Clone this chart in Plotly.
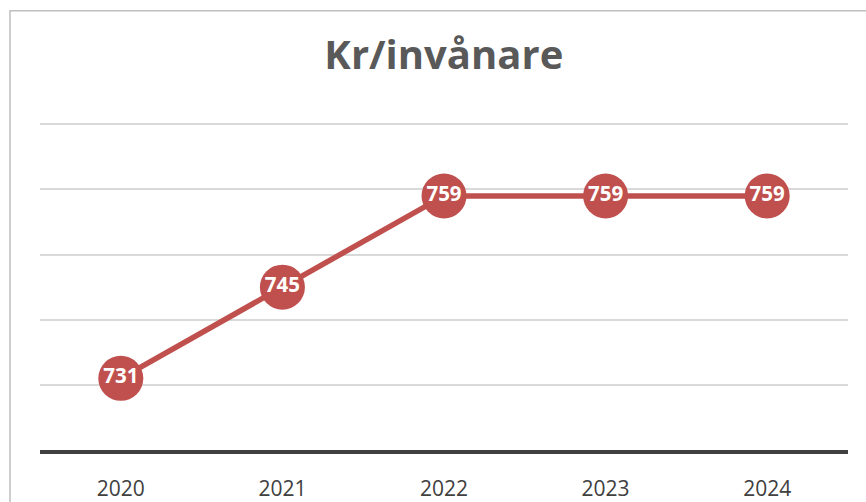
import plotly.graph_objects as go

years = ["2020", "2021", "2022", "2023", "2024"]
values = [731, 745, 759, 759, 759]
labels = ["731", "745", "759", "759", "759"]
title_text = "Kr/invånare"

RED = "#C0504D"

# plot area geometry (pixels)
L, R, TOP, BOT = 40, 848, 124.5, 450
Y0, Y1 = 720, 770.5
px_per_unit = (BOT - TOP) / (770 - 720)
top_px = BOT - (Y1 - Y0) * px_per_unit

fig = go.Figure()
fig.add_trace(go.Scatter(
    x=years, y=values, mode="lines+markers+text",
    line=dict(color=RED, width=5.5),
    marker=dict(size=45, color=RED, line=dict(width=0)),
    text=labels, textposition="middle center",
    textfont=dict(family="Open Sans", size=20.5, color="white", weight="bold"),
    cliponaxis=False, hoverinfo="skip",
))

fig.update_layout(
    template="none",
    width=866, height=502,
    margin=dict(l=L, r=866 - R, t=top_px, b=502 - BOT, pad=0),
    paper_bgcolor="white", plot_bgcolor="white",
    showlegend=False,
    title=dict(text="<b>" + title_text + "</b>", x=0.5125, xanchor="center",
               y=1 - 55 / 502, yanchor="middle", yref="container",
               font=dict(family="Open Sans", size=40, color="#595959")),
    xaxis=dict(type="category", range=[-0.5, 4.5], showgrid=False,
               showline=True, linecolor="#404040", linewidth=3.5,
               ticks="outside", ticklen=17, tickcolor="rgba(0,0,0,0)",
               tickfont=dict(family="Open Sans", size=21, color="#404040"),
               zeroline=False, fixedrange=True, automargin=False),
    yaxis=dict(range=[Y0, Y1], dtick=10, tick0=720, showgrid=True,
               gridcolor="#D9D9D9", gridwidth=2, showticklabels=False, ticks="",
               zeroline=False, showline=False, fixedrange=True, automargin=False),
)

pw = R - L
ph = BOT - top_px
# outer chart border (light grey frame)
fig.add_shape(type="rect", xref="paper", yref="paper",
              x0=(10 - L) / pw, x1=(880 - L) / pw,
              y0=(BOT - 520) / ph, y1=(BOT - 11) / ph,
              line=dict(color="#BFBFBF", width=1.5), fillcolor="rgba(0,0,0,0)",
              layer="below")

fig.write_html("out.html", config={"displayModeBar": False},
               post_script="document.body.style.margin='0';document.body.style.overflow='hidden';")
